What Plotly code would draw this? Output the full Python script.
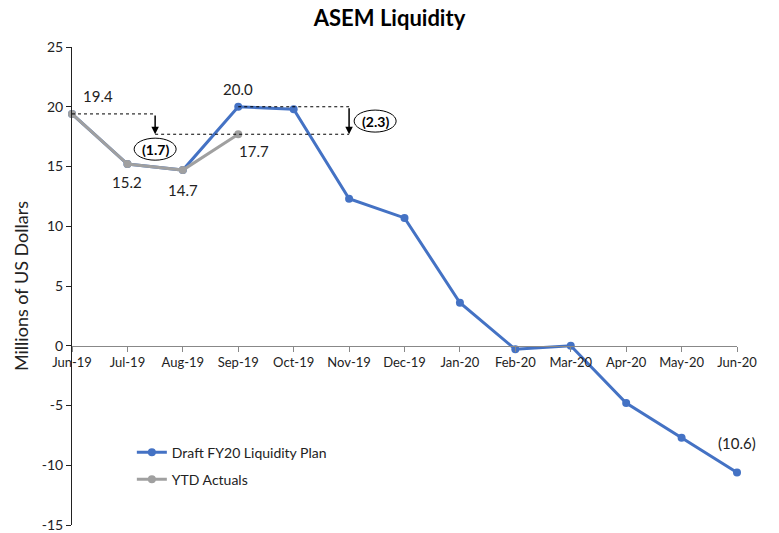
import plotly.graph_objects as go

months = ["Jun-19", "Jul-19", "Aug-19", "Sep-19", "Oct-19", "Nov-19", "Dec-19",
          "Jan-20", "Feb-20", "Mar-20", "Apr-20", "May-20", "Jun-20"]
plan = [19.4, 15.2, 14.7, 20.0, 19.8, 12.3, 10.7, 3.6, -0.3, 0.0, -4.8, -7.7, -10.6]
actuals = [19.4, 15.2, 14.7, 17.7]
y_ticks = [-15, -10, -5, 0, 5, 10, 15, 20, 25]
y_ticktext = ["-15", "-10", "-5", "0", "5", "10", "15", "20", "25"]

BLUE = "#4472C4"
GRAY = "#A0A0A0"
FONT = "Lato"

fig = go.Figure()
fig.add_trace(go.Scatter(x=months, y=plan, mode="lines+markers", name="Draft FY20 Liquidity Plan",
                         line=dict(color=BLUE, width=3), marker=dict(size=8, color=BLUE),
                         cliponaxis=False, legendgroup="a"))
fig.add_trace(go.Scatter(x=months[:len(actuals)], y=actuals, mode="lines+markers", name="YTD Actuals",
                         line=dict(color=GRAY, width=3), marker=dict(size=8, color=GRAY),
                         cliponaxis=False, legendgroup="b"))

lbl = dict(size=15, color="#222", family=FONT)
# data labels
labels = [
    (months[0], actuals[0], "19.4", 26, 18),
    (months[1], actuals[1], "15.2", 0, -18),
    (months[2], actuals[2], "14.7", 0, -20),
    (months[3], plan[3], "20.0", 0, 18),
    (months[3], actuals[3], "17.7", 16, -17),
    (months[12], plan[12], "(10.6)", 0, 29),
]
for x, y, t, xs, ys in labels:
    fig.add_annotation(x=x, y=y, text=t, showarrow=False, xshift=xs, yshift=ys, font=lbl)

# dotted reference lines
dot = dict(color="#000", width=1, dash="dot")
fig.add_shape(type="line", x0=0, x1=1.5, y0=actuals[0], y1=actuals[0], line=dot)
fig.add_shape(type="line", x0=1.5, x1=5, y0=actuals[3], y1=actuals[3], line=dot)
fig.add_shape(type="line", x0=3, x1=5, y0=plan[3], y1=plan[3], line=dot)

# arrows
for xa, ytop, ybot in [(1.5, actuals[0], actuals[3]), (5, plan[3], actuals[3])]:
    fig.add_annotation(x=xa, y=ybot, ax=xa, ay=ytop, axref="x", ayref="y", xref="x", yref="y",
                       showarrow=True, arrowhead=2, arrowsize=1, arrowwidth=1.5, arrowcolor="#000", text="")

# variance ellipses
diffs = [(1.5, 16.45, "(1.7)"), (5.47, 18.8, "(2.3)")]
for xc, yc, t in diffs:
    fig.add_shape(type="circle", xref="x", yref="y", xsizemode="pixel", ysizemode="pixel",
                  xanchor=xc, yanchor=yc, x0=-21, x1=21, y0=-11, y1=11,
                  line=dict(color="#000", width=1))
    fig.add_annotation(x=xc, y=yc, text="<b>" + t + "</b>", showarrow=False,
                       font=dict(size=14, color="#000", family=FONT))

fig.update_layout(
    width=779, height=533,
    margin=dict(l=72, r=42, t=47, b=8, autoexpand=False),
    paper_bgcolor="white", plot_bgcolor="white",
    title=dict(text="<b>ASEM Liquidity</b>", x=0.5, xanchor="center", y=0.965, yanchor="middle",
               font=dict(size=22, color="#000", family=FONT)),
    font=dict(family=FONT, color="#222"),
    showlegend=True,
    legend=dict(x=0.09, y=0.185, xanchor="left", yanchor="top", bgcolor="rgba(0,0,0,0)",
                font=dict(size=14, color="#222", family=FONT), tracegroupgap=6),
    xaxis=dict(type="category", categoryarray=months, range=[0, 12], anchor="free", position=0.375,
               showline=True, linecolor="#888", linewidth=1, ticks="outside", ticklen=5,
               tickcolor="#888", showgrid=False, zeroline=False, automargin=False,
               tickfont=dict(size=13, color="#222", family=FONT)),
    yaxis=dict(range=[-15, 25], tickvals=y_ticks, ticktext=y_ticktext, showline=True,
               linecolor="#222", linewidth=1, ticks="outside", ticklen=5, tickcolor="#222",
               showgrid=False, zeroline=False, automargin=False,
               title=dict(text="Millions of US Dollars", font=dict(size=18, color="#222", family=FONT),
                          standoff=8),
               tickfont=dict(size=14, color="#222", family=FONT)),
)

fig.write_html("out.html", config={"displayModeBar": False},
               post_script="document.body.style.margin='0';document.body.style.padding='0';")
